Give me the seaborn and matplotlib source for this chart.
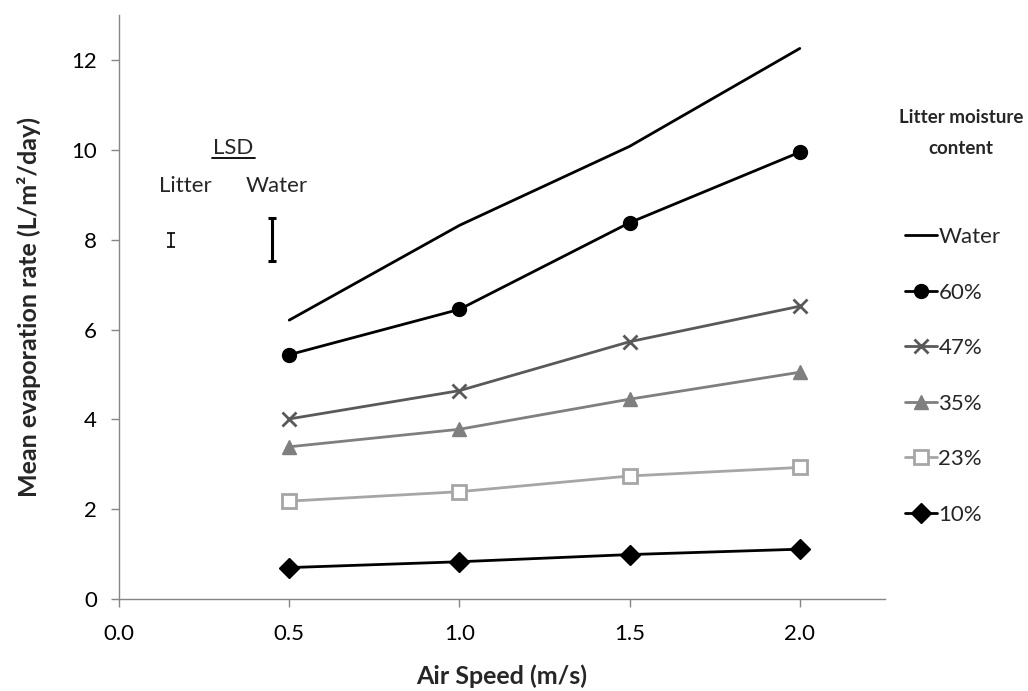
import matplotlib
matplotlib.use("Agg")
import matplotlib.pyplot as plt
import numpy as np
import pandas as pd
import seaborn as sns

# Air speed (m/s) and mean evaporation rate (L/m²/day) per litter moisture content
air_speed = [0.5, 1.0, 1.5, 2.0]
water = [6.21, 8.32, 10.08, 12.26]
mc_60 = [5.44, 6.45, 8.38, 9.95]
mc_47 = [4.01, 4.64, 5.73, 6.52]
mc_35 = [3.39, 3.78, 4.45, 5.05]
mc_23 = [2.18, 2.39, 2.74, 2.93]
mc_10 = [0.70, 0.83, 0.99, 1.11]

series_names = ["Water", "60%", "47%", "35%", "23%", "10%"]
series_values = [water, mc_60, mc_47, mc_35, mc_23, mc_10]

# Least significant difference bars
lsd_names = ["Litter", "Water"]
lsd_x = [0.153, 0.45]
lsd_center = [8.0, 8.0]
lsd_half = [0.16, 0.48]

x_ticks = [0.0, 0.5, 1.0, 1.5, 2.0]
y_ticks = [0, 2, 4, 6, 8, 10, 12]

FS = 16
FS_LABEL = 18

sns.set_theme(style="white")
plt.rcParams["font.family"] = ["Lato", "DejaVu Sans"]

styles = {
    "Water": dict(color="black", marker=None),
    "60%": dict(color="black", marker="o", mfc="black", mec="black", ms=10),
    "47%": dict(color="#595959", marker="x", mfc="#595959", mec="#595959", ms=10, mew=2),
    "35%": dict(color="#7f7f7f", marker="^", mfc="#7f7f7f", mec="#7f7f7f", ms=10),
    "23%": dict(color="#a6a6a6", marker="s", mfc="white", mec="#a6a6a6", ms=10, mew=2),
    "10%": dict(color="black", marker="D", mfc="black", mec="black", ms=10),
}

df = pd.DataFrame(
    [(n, x, v) for n, vals in zip(series_names, series_values) for x, v in zip(air_speed, vals)],
    columns=["series", "speed", "rate"],
)

fig = plt.figure(figsize=(10.28, 6.91), dpi=100)
ax = fig.add_axes([0.1158, 0.1331, 0.745, 0.8449])

for name in series_names:
    st = dict(styles[name])
    color = st.pop("color")
    marker = st.pop("marker")
    sub = df[df["series"] == name]
    kw = dict(marker=marker, markersize=st.get("ms", 10),
              markerfacecolor=st.get("mfc", color),
              markeredgecolor=st.get("mec", color),
              markeredgewidth=st.get("mew", 1)) if marker else {}
    sns.lineplot(data=sub, x="speed", y="rate", ax=ax, color=color,
                 linewidth=2.0, label=name, **kw)

# LSD error bars
ax.errorbar(lsd_x[0], lsd_center[0], yerr=lsd_half[0], fmt="none",
            ecolor="black", elinewidth=1.2, capsize=3, capthick=1.2)
ax.errorbar(lsd_x[1], lsd_center[1], yerr=lsd_half[1], fmt="none",
            ecolor="black", elinewidth=2.2, capsize=3, capthick=2.2)
ax.text(0.335, 10.05, "LSD", ha="center", va="center", fontsize=FS)
ax.plot([0.272, 0.398], [9.83, 9.83], color="black", lw=1.3)
ax.text(0.194, 9.2, lsd_names[0], ha="center", va="center", fontsize=FS)
ax.text(0.464, 9.2, lsd_names[1], ha="center", va="center", fontsize=FS)

ax.set_xlim(0, 2.25)
ax.set_ylim(0, 13)
ax.set_xticks(x_ticks)
ax.set_xticklabels([f"{t:.1f}" for t in x_ticks], fontsize=FS)
ax.set_yticks(y_ticks)
ax.set_yticklabels([str(t) for t in y_ticks], fontsize=FS)
ax.tick_params(axis="both", direction="out", length=6, width=1, color="#868686",
               labelcolor="black", bottom=True, left=True)
ax.tick_params(axis="x", pad=12)
ax.tick_params(axis="y", pad=10)

for s in ["top", "right"]:
    ax.spines[s].set_visible(False)
for s in ["left", "bottom"]:
    ax.spines[s].set_color("#868686")
    ax.spines[s].set_linewidth(1)

ax.set_xlabel("Air Speed (m/s)", fontsize=FS_LABEL, fontweight="bold", labelpad=15)
ax.set_ylabel("Mean evaporation rate (L/m²/day)", fontsize=FS_LABEL, fontweight="bold",
              labelpad=22)

fig.text(961 / 1028, 1 - 133 / 691, "Litter moisture\ncontent", ha="center", va="center",
         fontsize=13.5, fontweight="bold", linespacing=2.0)

leg = ax.legend(frameon=False, fontsize=FS,
                loc="upper left", bbox_to_anchor=(905 / 1028, 1 - 227 / 691),
                bbox_transform=fig.transFigure,
                handlelength=1.45, handletextpad=0.05, labelspacing=1.6,
                borderaxespad=0, borderpad=0)

fig.savefig("out.png", dpi=100)
